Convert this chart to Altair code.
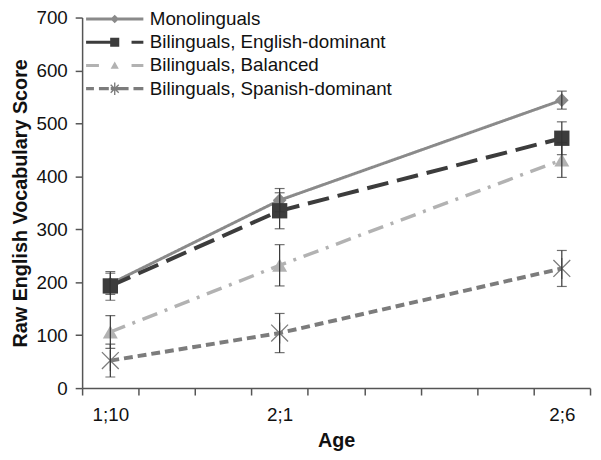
import altair as alt
import pandas as pd
import numpy as np

# ---------------- data ----------------
series = ["Monolinguals", "Bilinguals, English-dominant",
          "Bilinguals, Balanced", "Bilinguals, Spanish-dominant"]
age_months = [22, 25, 30]
age_labels = ["1;10", "2;1", "2;6"]

mono = [197, 355, 544]
mono_err = [20, 22, 17]
eng = [193, 335, 472]
eng_err = [27, 34, 31]
bal = [106, 232, 431]
bal_err = [31, 39, 33]
spa = [52, 104, 226]
spa_err = [31, 37, 34]

y_ticks = [0, 100, 200, 300, 400, 500, 600, 700]

values = [mono, eng, bal, spa]
errors = [mono_err, eng_err, bal_err, spa_err]

rows = []
for s, vals, errs in zip(series, values, errors):
    for a, v, e in zip(age_months, vals, errs):
        rows.append({"series": s, "age": a, "score": v, "lo": v - e, "hi": v + e})
df = pd.DataFrame(rows)

# ---------------- styles ----------------
colors = ["#8a8a8a", "#3c3c3c", "#b2b2b2", "#7c7c7c"]
widths = [3, 4, 3.5, 4]
dashes = [[1, 0], [22, 9], [16, 8, 3, 8], [9, 5]]
FONT = "Liberation Sans"

ASTERISK = "M-1,-1L1,1M-1,1L1,-1M0,-1.25L0,1.25"
point_styles = [
    dict(shape="diamond", size=190, filled=True),
    dict(shape="square", size=240, filled=True),
    dict(shape="triangle-up", size=230, filled=True),
    dict(shape=ASTERISK, size=290, filled=False, strokeWidth=1.3),
]

# legend glyphs (filled paths, unit = sqrt(size)/2 px)
H = 0.14


def rect(x0, x1, h=H):
    return f"M{x0:.3f},{-h:.3f}L{x1:.3f},{-h:.3f}L{x1:.3f},{h:.3f}L{x0:.3f},{h:.3f}Z"


def diamond(r):
    return f"M{-r},0L0,{-r}L{r},0L0,{r}Z"


def square(r):
    return f"M{-r},{-r}L{r},{-r}L{r},{r}L{-r},{r}Z"


def triangle(r):
    return f"M0,{-r}L{r},{r*0.8:.3f}L{-r},{r*0.8:.3f}Z"


def bar(angle, length, t):
    c, s = np.cos(angle), np.sin(angle)
    ux, uy = c * length, s * length
    nx, ny = -s * t, c * t
    pts = [(-ux - nx, -uy - ny), (ux - nx, uy - ny), (ux + nx, uy + ny), (-ux + nx, -uy + ny)]
    area = sum(pts[i][0] * pts[(i + 1) % 4][1] - pts[(i + 1) % 4][0] * pts[i][1] for i in range(4))
    if area < 0:
        pts = pts[::-1]
    return "M" + "L".join(f"{x:.3f},{y:.3f}" for x, y in pts) + "Z"


L0, L1 = -2.52, 2.52
legend_shapes = [
    rect(L0, L1) + diamond(0.38),
    rect(L0, 0) + square(0.40) + rect(1.48, L1),
    rect(L0, -1.39) + triangle(0.36) + rect(1.48, L1),
    rect(L0, -1.83) + rect(-1.39, -0.52) + rect(-0.35, 1.22) + rect(1.65, L1)
    + bar(np.pi / 4, 0.5, 0.06) + bar(-np.pi / 4, 0.5, 0.06) + bar(np.pi / 2, 0.55, 0.06),
]

# ---------------- axes ----------------
half_ticks = [21.5 + i for i in range(10)]
axis_values = sorted(half_ticks + age_months)
label_expr = " : ".join(f"datum.value === {a} ? '{l}'" for a, l in zip(age_months, age_labels)) + " : ''"

x_scale = alt.Scale(domain=[21.5, 30.5], nice=False, zero=False)
y_scale = alt.Scale(domain=[0, 700], nice=False)

x_axis = alt.Axis(
    values=axis_values, labelExpr=label_expr, title="Age", grid=False,
    tickSize=7, tickOpacity={"condition": {"test": "datum.value % 1 === 0", "value": 0}, "value": 1},
    labelOverlap=False, labelFlush=False, labelPadding=11,
    labelFontSize=19, titleFontSize=20, titleFontWeight="bold", titlePadding=6,
    labelFont=FONT, titleFont=FONT, labelColor="#111111", titleColor="#111111",
    domainColor="#555555", tickColor="#555555", domainWidth=1.5, tickWidth=1.5,
)
y_axis = alt.Axis(
    values=y_ticks, title="Raw English Vocabulary Score", grid=False,
    tickSize=7, labelPadding=8, labelFontSize=19, titleFontSize=20,
    titleFontWeight="bold", titlePadding=6,
    labelFont=FONT, titleFont=FONT, labelColor="#111111", titleColor="#111111",
    domainColor="#555555", tickColor="#555555", domainWidth=1.5, tickWidth=1.5,
)

base = alt.Chart(df)
X = alt.X("age:Q", scale=x_scale, axis=x_axis)
Y = alt.Y("score:Q", scale=y_scale, axis=y_axis)

layers = []
for i, s in enumerate(series):
    layers.append(
        base.transform_filter(alt.datum.series == s)
        .mark_line(color=colors[i], strokeWidth=widths[i], strokeDash=dashes[i])
        .encode(x=X, y=Y)
    )
for i, s in enumerate(series):
    st = point_styles[i]
    kw = dict(shape=st["shape"], size=st["size"], filled=st["filled"], opacity=1, color=colors[i])
    if "strokeWidth" in st:
        kw["strokeWidth"] = st["strokeWidth"]
    layers.append(
        base.transform_filter(alt.datum.series == s).mark_point(**kw).encode(x=X, y=Y)
    )

err_rule = base.mark_rule(color="#333333", strokeWidth=1.2).encode(
    x=alt.X("age:Q", scale=x_scale), y=alt.Y("lo:Q", scale=y_scale), y2="hi:Q")
cap_lo = base.mark_tick(orient="horizontal", color="#333333", size=10, thickness=1.2).encode(
    x=alt.X("age:Q", scale=x_scale), y=alt.Y("lo:Q", scale=y_scale))
cap_hi = base.mark_tick(orient="horizontal", color="#333333", size=10, thickness=1.2).encode(
    x=alt.X("age:Q", scale=x_scale), y=alt.Y("hi:Q", scale=y_scale))
layers += [err_rule, cap_lo, cap_hi]


def make_legend():
    return alt.Legend(title=None, orient="none", legendX=21.5, legendY=-10,
                      symbolSize=529, symbolStrokeWidth=0, labelFontSize=19,
                      labelFont=FONT, labelColor="#111111", labelOffset=24,
                      padding=0, rowPadding=1.5, labelLimit=400)


legend_layer = base.transform_filter("false").mark_point(filled=True, opacity=1, strokeWidth=0).encode(
    x=alt.X("age:Q", scale=x_scale),
    y=alt.Y("score:Q", scale=y_scale),
    color=alt.Color("series:N", scale=alt.Scale(domain=series, range=colors), legend=make_legend()),
    shape=alt.Shape("series:N", scale=alt.Scale(domain=series, range=legend_shapes), legend=make_legend()),
)
layers.append(legend_layer)

chart = alt.layer(*layers).properties(
    width=514, height=375,
    autosize=alt.AutoSizeParams(type="none"),
    padding={"left": 75, "top": 7, "right": 3, "bottom": 62},
    background="white",
).configure_view(stroke=None)

chart.save("out.html", embed_options={"renderer": "svg", "actions": False})
